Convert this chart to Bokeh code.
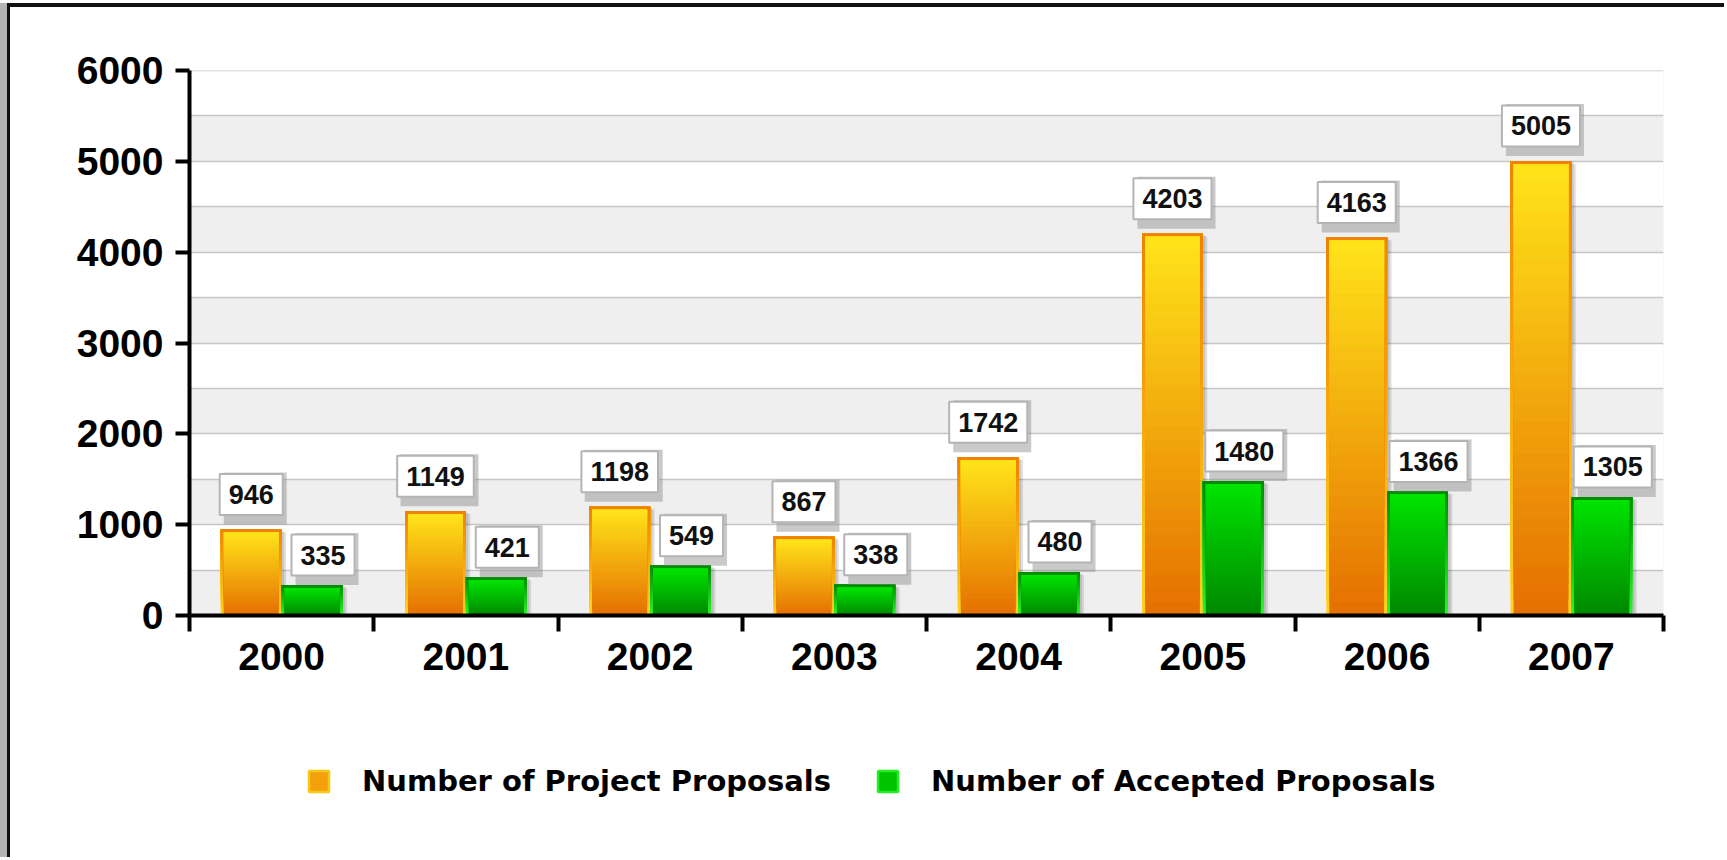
import numpy as np
from bokeh.plotting import figure
from bokeh.layouts import column
from bokeh.core.properties import value
from bokeh.models import (ColumnDataSource, Range1d, FixedTicker, SingleIntervalTicker,
                          Legend, LegendItem)
from bokeh.embed import file_html
from bokeh.resources import INLINE

# ---------------- data ----------------
years = ["2000", "2001", "2002", "2003", "2004", "2005", "2006", "2007"]
project_proposals = [946, 1149, 1198, 867, 1742, 4203, 4163, 5005]
accepted_proposals = [335, 421, 549, 338, 480, 1480, 1366, 1305]
series_names = ["Number of Project Proposals", "Number of Accepted Proposals"]
y_tick_values = [0, 1000, 2000, 3000, 4000, 5000, 6000]

FONT = "Liberation Sans"
LEGEND_FONT = "DejaVu Sans"

W, H1, H2 = 1714, 700, 150
p = figure(width=W, height=H1, output_backend="svg", toolbar_location=None,
           x_range=Range1d(0, len(years)), y_range=Range1d(0, 6001),
           min_border_left=179, min_border_right=61, min_border_top=63, min_border_bottom=92,
           background_fill_color="#efefef", border_fill_color="white",
           outline_line_color=None)

# grid: white / grey alternating bands every 500
p.xgrid.visible = False
p.ygrid.ticker = SingleIntervalTicker(interval=500)
p.ygrid.grid_line_color = "#c6c6c6"
p.ygrid.grid_line_width = 1.5
p.ygrid.band_fill_color = "white"
p.ygrid.band_fill_alpha = 1.0

# y axis
ya = p.yaxis[0]
ya.ticker = FixedTicker(ticks=y_tick_values)
ya.axis_line_width = 4
ya.axis_line_color = "black"
ya.major_tick_line_width = 4
ya.major_tick_out = 14
ya.major_tick_in = 0
ya.minor_tick_line_color = None
ya.major_label_standoff = 12
ya.major_label_text_font = FONT
ya.major_label_text_font_style = "bold"
ya.major_label_text_font_size = "39px"
ya.major_label_text_color = "black"

# x axis: labels at category centres, tick marks at boundaries
n = len(years)
centers = [i + 0.5 for i in range(n)]
xa = p.xaxis[0]
xa.ticker = FixedTicker(ticks=centers, minor_ticks=list(range(n + 1)))
xa.major_label_overrides = {c: y for c, y in zip(centers, years)}
xa.axis_line_width = 4
xa.axis_line_color = "black"
xa.major_tick_line_color = None
xa.major_tick_out = 0
xa.major_tick_in = 0
xa.minor_tick_line_color = "black"
xa.minor_tick_line_width = 4
xa.minor_tick_out = 16
xa.minor_tick_in = 0
xa.major_label_standoff = 11
xa.major_label_text_font = FONT
xa.major_label_text_font_style = "bold"
xa.major_label_text_font_size = "39px"
xa.major_label_text_color = "black"


def hex2rgb(c):
    c = c.lstrip("#")
    return np.array([int(c[i:i + 2], 16) for i in (0, 2, 4)], dtype=float)


def lerp(c_bottom, c_top, t):
    a, b = hex2rgb(c_bottom), hex2rgb(c_top)
    r = a + (b - a) * t
    return "#%02x%02x%02x" % tuple(int(round(v)) for v in r)


def gradient_bars(xs, values, width, c_bottom, c_top, trim=0.0, steps=28):
    xs_l, b_l, t_l, c_l = [], [], [], []
    for k in range(steps):
        frac = k / steps
        col = lerp(c_bottom, c_top, (k + 0.5) / steps)
        for x, v in zip(xs, values):
            top = max(v - trim, 0)
            xs_l.append(x)
            b_l.append(top * frac)
            t_l.append(top)
            c_l.append(col)
    src = ColumnDataSource(dict(x=xs_l, bottom=b_l, top=t_l, color=c_l))
    p.vbar(x="x", bottom="bottom", top="top", width=width, source=src,
           fill_color="color", line_color=None)


BW = 0.33
OFF = 0.165
BORDER_X = 0.0165
BORDER_Y = 33
x_proj = [c - OFF for c in centers]
x_acc = [c + OFF for c in centers]

# soft shadows
for xs, vals in ((x_proj, project_proposals), (x_acc, accepted_proposals)):
    p.vbar(x=[x + 0.024 for x in xs], top=[v - 30 for v in vals], width=BW,
           fill_color="black", fill_alpha=0.12, line_color=None)
    p.vbar(x=[x + 0.013 for x in xs], top=[v - 15 for v in vals], width=BW,
           fill_color="black", fill_alpha=0.10, line_color=None)

# orange bars: border (reverse gradient) then fill gradient
gradient_bars(x_proj, project_proposals, BW, "#ffd21c", "#ef8200")
gradient_bars(x_proj, project_proposals, BW - 2 * BORDER_X, "#e56f00", "#ffe41a", trim=BORDER_Y)
# green bars
gradient_bars(x_acc, accepted_proposals, BW, "#2cf52c", "#008a00")
gradient_bars(x_acc, accepted_proposals, BW - 2 * BORDER_X, "#008700", "#00e400", trim=BORDER_Y)

# value labels (boxed text with drop shadow)
NBSP = "\u00a0"
for xs, vals, yoff, xoff in ((x_proj, project_proposals, 35, 0), (x_acc, accepted_proposals, 30, 11)):
    shadow_src = ColumnDataSource(dict(x=xs, y=vals, t=[NBSP * (2 * len(str(v))) for v in vals]))
    p.text(x="x", y="y", text="t", source=shadow_src, x_offset=xoff + 4, y_offset=-yoff + 4,
           text_align="center", text_baseline="middle",
           text_font=value(FONT), text_font_style="bold", text_font_size="27px",
           text_alpha=0.0,
           background_fill_color="#8a8a8a", background_fill_alpha=0.45,
           border_line_color=None, padding=dict(x=9, y=11))
    src = ColumnDataSource(dict(x=xs, y=vals, t=[str(v) for v in vals]))
    p.text(x="x", y="y", text="t", source=src, x_offset=xoff, y_offset=-yoff,
           text_align="center", text_baseline="middle",
           text_font=value(FONT), text_font_style="bold", text_font_size="27px",
           text_color="#111111",
           background_fill_color="white", background_fill_alpha=1.0,
           border_line_color="#b4b4b4", border_line_width=2, padding=dict(x=9, y=11))

# ---------------- legend strip (second figure) ----------------
p2 = figure(width=W, height=H2, output_backend="svg", toolbar_location=None,
            x_range=Range1d(0, 1), y_range=Range1d(0, 1),
            x_axis_location=None, y_axis_location=None, min_border=0,
            background_fill_color="white", border_fill_color="white",
            outline_line_color=None)
p2.grid.visible = False
# swatch renderers: hidden, only the legend shows their style
dummy_p = p2.vbar(x=[0.5], top=[0], width=0.1, fill_color="#f3a00c", line_color="#f8c814",
                  line_width=2.5, visible=False)
dummy_a = p2.vbar(x=[0.5], top=[0], width=0.1, fill_color="#00c400", line_color="#22ee22",
                  line_width=2.5, visible=False)
legend = Legend(items=[LegendItem(label=series_names[0], renderers=[dummy_p]),
                       LegendItem(label=series_names[1], renderers=[dummy_a])],
                orientation="horizontal", location=(112, 54),
                label_text_font=LEGEND_FONT, label_text_font_style="bold", label_text_font_size="29px",
                label_text_color="black",
                glyph_width=25, glyph_height=26, label_standoff=31, spacing=44,
                padding=5, margin=0, border_line_alpha=0, background_fill_alpha=0)
p2.add_layout(legend)

layout = column(p, p2, spacing=0,
                styles={"margin-left": "7px", "margin-top": "3px",
                        "border-left": "3px solid #111", "border-top": "4px solid #111",
                        "box-shadow": "-7px 0 0 #b4b4b4"})

open("out.html", "w").write(file_html(layout, INLINE))
